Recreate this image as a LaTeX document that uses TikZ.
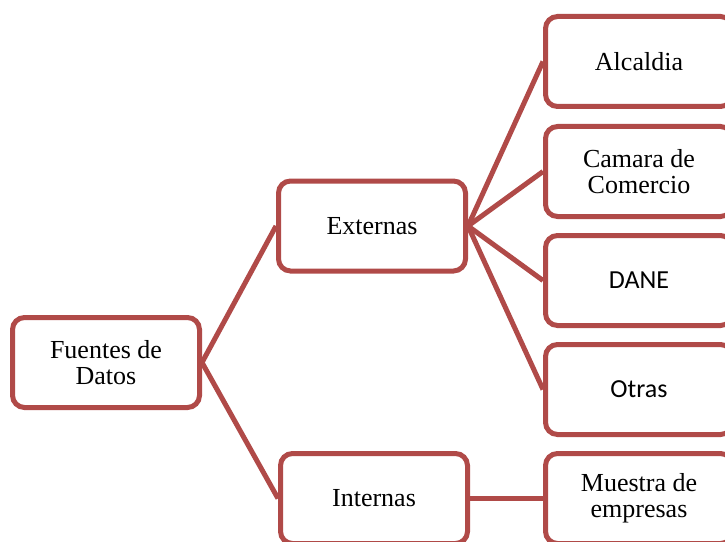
\documentclass[tikz,border=0pt]{standalone}
\usepackage{fontspec}
\setmainfont{Liberation Serif}
\newfontfamily\calibrifont{Carlito}
\definecolor{boxred}{HTML}{B04A48}
\begin{document}
\begin{tikzpicture}[x=0.75pt,y=-0.75pt,
  card/.style={draw=boxred, line width=3.75pt, fill=white, rounded corners=9pt,
    minimum width=140.25pt, minimum height=67.5pt, inner sep=0pt,
    align=center, font=\fontsize{19.5}{19.5}\selectfont},
  sanscard/.style={card, font=\calibrifont\fontsize{19.5}{19.5}\selectfont},
  link/.style={draw=boxred, line width=3.75pt}]
\useasboundingbox (0,0) rectangle (725,542);
\begin{scope}
\clip (0,0) rectangle (725,542);
% tree of data sources
\node[card] (fuentes) at (106,362.5) {Fuentes de\\Datos};
\node[card] (externas) at (372,226) {Externas};
\node[card] (internas) at (374,498.5) {Internas};
\node[card] (alcaldia) at (639,61.5) {Alcaldia};
\node[card] (camara) at (639,171.5) {Camara de\\Comercio};
\node[sanscard] (dane) at (639,280.5) {DANE};
\node[sanscard] (otras) at (639,389.5) {Otras};
\node[card] (muestra) at (639,498.5) {Muestra de\\empresas};
% connectors from each parent to its children
\draw[link] (fuentes.east) -- (externas.west);
\draw[link] (fuentes.east) -- (internas.west);
\draw[link] (externas.east) -- (alcaldia.west);
\draw[link] (externas.east) -- (camara.west);
\draw[link] (externas.east) -- (dane.west);
\draw[link] (externas.east) -- (otras.west);
\draw[link] (internas.east) -- (muestra.west);
\end{scope}
\end{tikzpicture}
\end{document}
